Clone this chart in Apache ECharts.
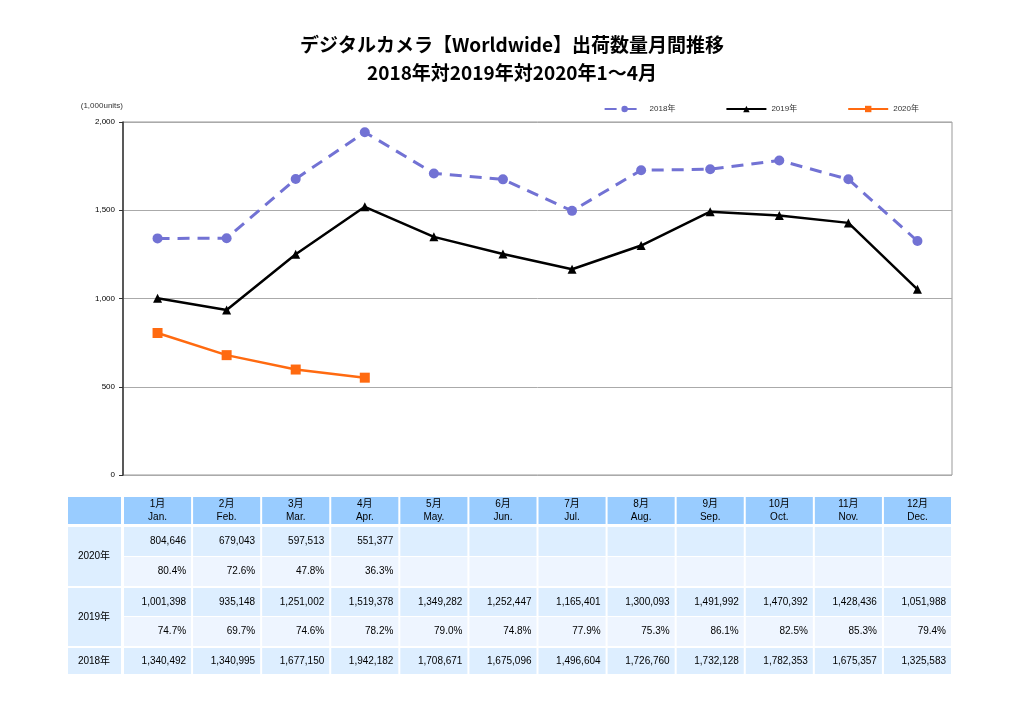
<!DOCTYPE html>
<html><head><meta charset="utf-8">
<script src="https://cdn.jsdelivr.net/npm/echarts@6/dist/echarts.min.js"></script>
<style>html,body{margin:0;background:#fff}#c{width:1024px;height:724px}</style>
</head><body><div id="c"></div>
<script>
const monthsJa = ['1月','2月','3月','4月','5月','6月','7月','8月','9月','10月','11月','12月'];
const monthsEn = ['Jan.','Feb.','Mar.','Apr.','May.','Jun.','Jul.','Aug.','Sep.','Oct.','Nov.','Dec.'];
const y2018 = [1340492,1340995,1677150,1942182,1708671,1675096,1496604,1726760,1732128,1782353,1675357,1325583];
const y2019 = [1001398,935148,1251002,1519378,1349282,1252447,1165401,1300093,1491992,1470392,1428436,1051988];
const y2020 = [804646,679043,597513,551377];
const pct2019 = ['74.7%','69.7%','74.6%','78.2%','79.0%','74.8%','77.9%','75.3%','86.1%','82.5%','85.3%','79.4%'];
const pct2020 = ['80.4%','72.6%','47.8%','36.3%'];
const yTicks = [0,500,1000,1500,2000];

const fmt = v => v.toLocaleString('en-US');
const chart = echarts.init(document.getElementById('c'));
const F = 'Liberation Sans, Noto Sans CJK JP, sans-serif';
chart.setOption({
  animation:false,
  title:{text:'デジタルカメラ【Worldwide】出荷数量月間推移\n2018年対2019年対2020年1～4月',left:'center',top:26,
    textStyle:{fontSize:19,fontWeight:'bold',lineHeight:28,color:'#000',fontFamily:'Noto Sans CJK JP'}},
  legend:{top:100,right:100,itemWidth:40,itemHeight:8,itemGap:50,textStyle:{fontSize:8,fontFamily:F,color:'#333'},
    data:['2018年','2019年','2020年']},
  grid:{left:123,right:72,top:122,bottom:249,show:true,borderColor:'#999',borderWidth:1},
  xAxis:{type:'category',data:monthsJa,boundaryGap:true,axisLine:{show:false},axisTick:{show:false},axisLabel:{show:false}},
  yAxis:{type:'value',min:0,max:2000,interval:500,
    axisLine:{show:true,lineStyle:{color:'#333',width:1.5}},axisTick:{show:true,length:4,lineStyle:{color:'#333'}},
    splitLine:{lineStyle:{color:'#aaa'}},
    axisLabel:{fontSize:8,color:'#000',fontFamily:F,formatter:v=>fmt(v)},
    name:'(1,000units)',nameLocation:'end',nameGap:12,nameTextStyle:{fontSize:8,color:'#333',align:'right',padding:[0,0,0,0]}},
  series:[
    {name:'2018年',type:'line',data:y2018.map(v=>v/1000),symbol:'circle',symbolSize:10,
      lineStyle:{color:'#7272d4',width:3,type:[12,8]},itemStyle:{color:'#7272d4'}},
    {name:'2019年',type:'line',data:y2019.map(v=>v/1000),symbol:'triangle',symbolSize:9,
      lineStyle:{color:'#000',width:2.5},itemStyle:{color:'#000'}},
    {name:'2020年',type:'line',data:y2020.map(v=>v/1000),symbol:'rect',symbolSize:10,
      lineStyle:{color:'#ff6a10',width:2.5},itemStyle:{color:'#ff6a10'}}
  ]
});

// table
const g = [];
const left0 = 123, cw = (952-123)/12;
const rows = [[497,524],[527,556],[557,586],[588,616],[617,646],[648,674]];
const HDR='#99ccff', C1='#ddeeff', C2='#eef5ff';
function rect(x1,y1,x2,y2,fill){g.push({type:'rect',shape:{x:x1,y:y1,width:x2-x1,height:y2-y1},style:{fill}});}
function text(x,y,t,align){g.push({type:'text',x,y,style:{text:t,fontSize:10,fontFamily:F,fill:'#000',align:align||'center',verticalAlign:'middle',lineHeight:13}});}
rect(68,rows[0][0],121,rows[0][1],HDR);
rect(68,rows[1][0],121,rows[2][1],C1);
rect(68,rows[3][0],121,rows[4][1],C1);
rect(68,rows[5][0],121,rows[5][1],C1);
text(94,(rows[1][0]+rows[2][1])/2,'2020年');
text(94,(rows[3][0]+rows[4][1])/2,'2019年');
text(94,(rows[5][0]+rows[5][1])/2,'2018年');
for(let i=0;i<12;i++){
  const x1=left0+cw*i+1, x2=left0+cw*(i+1)-1, xr=x2-5;
  rect(x1,rows[0][0],x2,rows[0][1],HDR);
  text((x1+x2)/2,(rows[0][0]+rows[0][1])/2,monthsJa[i]+'\n'+monthsEn[i]);
  const fills=[C1,C2,C1,C2,C1];
  for(let r=1;r<6;r++) rect(x1,rows[r][0],x2,rows[r][1],fills[r-1]);
  const mid=r=>(rows[r][0]+rows[r][1])/2;
  if(i<y2020.length){text(xr,mid(1),fmt(y2020[i]),'right');text(xr,mid(2),pct2020[i],'right');}
  text(xr,mid(3),fmt(y2019[i]),'right');text(xr,mid(4),pct2019[i],'right');
  text(xr,mid(5),fmt(y2018[i]),'right');
}
chart.setOption({graphic:g});
</script></body></html>
